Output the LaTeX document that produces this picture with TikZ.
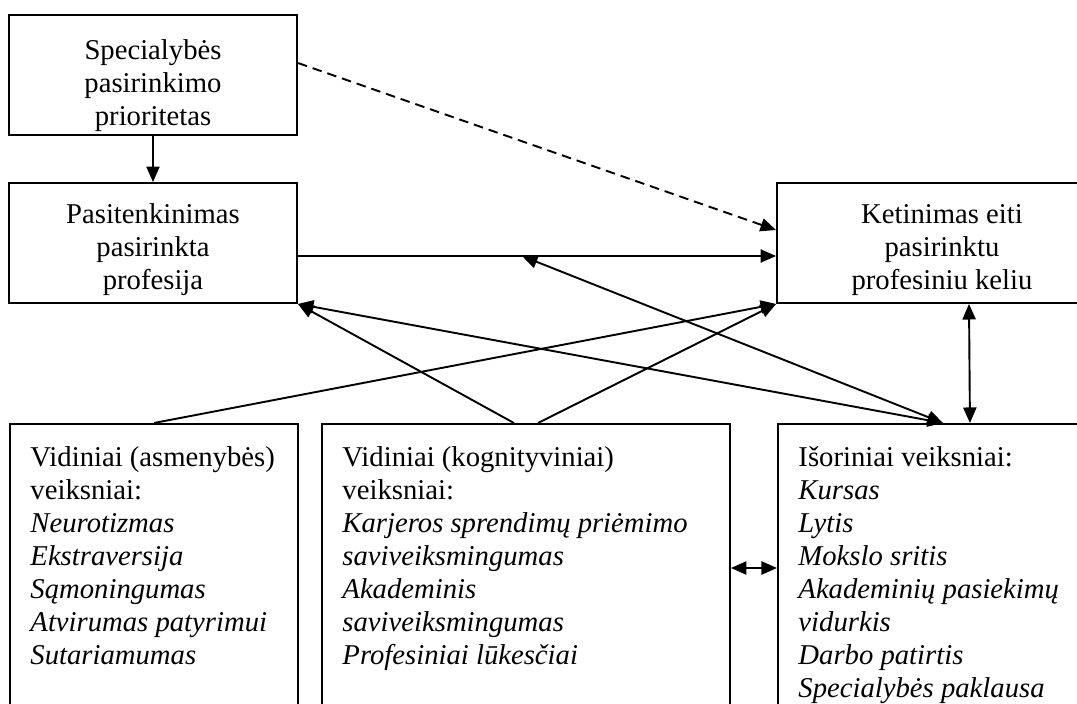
\documentclass[tikz,border=0pt]{standalone}
\usepackage{fontspec}
\setmainfont{Liberation Serif}
\usetikzlibrary{arrows.meta, calc, positioning}
\newlength{\px}
\setlength{\px}{0.4184pt}

\begin{document}
\begin{tikzpicture}[x=\px, y=-\px,
	font=\fontsize{12}{13.8}\selectfont,
	box/.style={draw, line width=0.8pt, inner sep=0pt},
	topbox/.style={box, minimum height=120\px},
	lowbox/.style={box, anchor=north west, minimum height=330\px},
	title/.style={inner sep=0pt, align=center},
	list/.style={anchor=north west, inner sep=0pt, align=left},
	arr/.style={line width=0.8pt, -{Triangle[length=6.5pt,width=5.5pt]}},
	dbl/.style={line width=0.8pt, {Triangle[length=6.5pt,width=5.5pt]}-{Triangle[length=6.5pt,width=5.5pt]}}]
			\useasboundingbox (0,0) rectangle (1077,704);
			\clip (0,0) rectangle (1077,704);
			% upper boxes
			\node [topbox, minimum width=288\px] (spec) at (153,75) {};
			\node [topbox, minimum width=288\px] (pasit) at (153,243) {};
			\node [topbox, minimum width=330\px] (ketin) at (942,243) {};
			\node [title] (spec-t) at ($(spec)+(0,11)$) {Specialybės\\pasirinkimo\\prioritetas};
			\node [title] (pasit-t) at ($(pasit)+(0,7)$) {Pasitenkinimas\\pasirinkta\\profesija};
			\node [title] (ketin-t) at ($(ketin)+(0,7)$) {Ketinimas eiti\\pasirinktu\\profesiniu keliu};
			% lower boxes
			\node [lowbox, minimum width=288\px] (asmen) at (9,423) {};
			\node [lowbox, minimum width=408\px] (kogn) at (321,423) {};
			\node [lowbox, minimum width=330\px] (isor) at (777,423) {};
			\node [list] (asmen-t) at ($(asmen.north west)+(21,23)$) {Vidiniai (asmenybės)\\veiksniai:\\\textit{Neurotizmas}\\\textit{Ekstraversija}\\\textit{Sąmoningumas}\\\textit{Atvirumas patyrimui}\\\textit{Sutariamumas}};
			\node [list] (kogn-t) at ($(kogn.north west)+(21,23)$) {Vidiniai (kognityviniai)\\veiksniai:\\\textit{Karjeros sprendimų priėmimo}\\\textit{saviveiksmingumas}\\\textit{Akademinis}\\\textit{saviveiksmingumas}\\\textit{Profesiniai lūkesčiai}};
			\node [list] (isor-t) at ($(isor.north west)+(21,23)$) {Išoriniai veiksniai:\\\textit{Kursas}\\\textit{Lytis}\\\textit{Mokslo sritis}\\\textit{Akademinių pasiekimų}\\\textit{vidurkis}\\\textit{Darbo patirtis}\\\textit{Specialybės paklausa}};
			% connectors
			\coordinate (mid) at (522,256);
			\draw [arr] (spec) -- (pasit);
			\draw [arr, dash pattern=on 4pt off 2.5pt] ($(spec.east)+(0,-12)$) -- ($(ketin.west)+(0,-13)$);
			\draw [arr] ($(pasit.east)+(0,13)$) -- ($(ketin.west)+(0,13)$);
			\draw [arr] (asmen.north) -- (ketin.south west);
			\draw [arr] ($(kogn.north)+(-12,0)$) -- (pasit.south east);
			\draw [arr] ($(kogn.north)+(12,0)$) -- (ketin.south west);
			\draw [dbl] (pasit.south east) -- (isor.north);
			\draw [dbl] (mid) -- (isor.north);
			\draw [dbl] ($(ketin.south)+(27,0)$) -- ($(isor.north)+(27,0)$);
			\draw [dbl] ($(kogn.north east)+(0,145)$) -- ($(isor.north west)+(0,145)$);
		\end{tikzpicture}
\end{document}
